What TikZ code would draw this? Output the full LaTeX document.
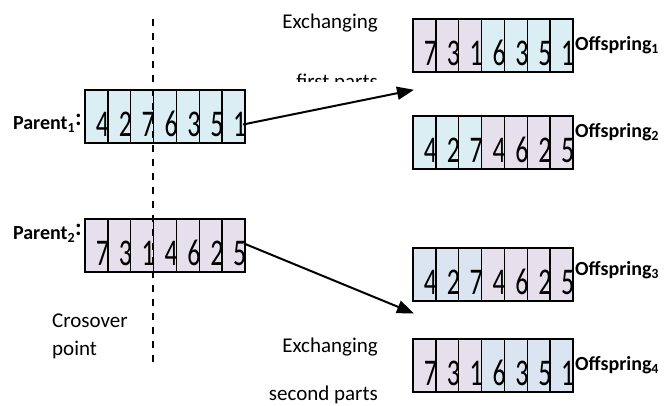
\documentclass[tikz,border=0pt]{standalone}
\usepackage{fontspec}
\usepackage{graphicx}
\setmainfont{Carlito}
\usetikzlibrary{arrows.meta}

\definecolor{geneCyan}{HTML}{DAEEF3}
\definecolor{geneLav}{HTML}{E5E0EC}
\definecolor{geneBlue}{HTML}{DBE5F1}

% one gene value, set large and slightly tall
\newcommand\genetext[1]{\fontsize{26}{26}\selectfont\scalebox{1}[1.45]{#1}}

\tikzset{
  cell/.style={draw, line width=1.4pt, minimum width=22.857pt, minimum height=53pt,
               inner sep=0pt, outer sep=0pt, anchor=north west},
  genedigit/.style={inner sep=0pt, anchor=base east},
  tag/.style={inner sep=0pt, font=\fontsize{20}{20}\selectfont\bfseries},
  caption/.style={inner sep=0pt, font=\fontsize{21}{21}\selectfont},
  cut/.style={line width=1.5pt, dash pattern=on 7pt off 7pt},
  move/.style={line width=2pt, -{Triangle[length=17pt,width=13pt]}, shorten >=-1pt}
}

% chromosome: name, left x, top y, list of colour/value
\newcommand\chromosome[4]{%
  \foreach \c/\d [count=\i] in {#4} {
    \node[cell, fill=\c] (#1-\i) at ({#2+(\i-1)*22.857}, #3) {};
    \node[genedigit] (#1-v\i) at ([xshift=1.5pt, yshift=7pt]#1-\i.south east) {\genetext{\d}};
  }}

\begin{document}
\begin{tikzpicture}[x=1pt, y=-1pt]
  \useasboundingbox (0,0) rectangle (664,405);

  % parents
  \chromosome{pa}{85}{90}{geneCyan/4,geneCyan/2,geneCyan/7,geneCyan/6,geneCyan/3,geneCyan/5,geneCyan/1}
  \chromosome{pb}{85}{219}{geneLav/7,geneLav/3,geneLav/1,geneLav/4,geneLav/6,geneLav/2,geneLav/5}

  % offspring
  \chromosome{oa}{413}{19}{geneLav/7,geneLav/3,geneLav/1,geneCyan/6,geneCyan/3,geneCyan/5,geneCyan/1}
  \chromosome{ob}{413}{116}{geneCyan/4,geneCyan/2,geneCyan/7,geneLav/4,geneLav/6,geneLav/2,geneLav/5}
  \chromosome{oc}{413}{248}{geneBlue/4,geneBlue/2,geneBlue/7,geneLav/4,geneLav/6,geneLav/2,geneLav/5}
  \chromosome{od}{413}{339}{geneLav/7,geneLav/3,geneLav/1,geneBlue/6,geneBlue/3,geneBlue/5,geneBlue/1}

  % labels
  \node[tag, anchor=base east] (la) at (82,129) {Parent\textsubscript{1}\raisebox{4pt}{\fontsize{24}{24}\selectfont:}};
  \node[tag, anchor=base east] (lb) at (82,239) {Parent\textsubscript{2}\raisebox{4pt}{\fontsize{24}{24}\selectfont:}};
  \node[tag, anchor=base west] (lc) at (575,50) {Offspring\textsubscript{1}};
  \node[tag, anchor=base west] (ld) at (575,137) {Offspring\textsubscript{2}};
  \node[tag, anchor=base west] (le) at (575,275) {Offspring\textsubscript{3}};
  \node[tag, anchor=base west] (lf) at (575,370) {Offspring\textsubscript{4}};

  % crossover point
  \coordinate (cuttop) at (153,19);
  \coordinate (cutbot) at (153,362);
  \draw[cut] (cuttop) -- (cutbot);
  \node[caption, anchor=base west] (cx1) at (52,327) {Crosover};
  \node[caption, anchor=base west] (cx2) at (52,355) {point};

  % exchange captions
  \node[caption, anchor=base east] (ex1) at (378,28) {Exchanging};
  \begin{scope}
    \clip (250,60) rectangle (400,81);
    \node[caption, anchor=base east] (ex2) at (378,88) {first parts};
  \end{scope}
  \node[caption, anchor=base east] (ex3) at (378,352) {Exchanging};
  \node[caption, anchor=base east] (ex4) at (378,400) {second parts};

  % exchange arrows
  \coordinate (tipa) at (413,90);
  \coordinate (tipb) at (413,313);
  \draw[move] ([xshift=-2pt, yshift=-8pt]pa-7.east) -- (tipa);
  \draw[move] ([xshift=-1pt, yshift=2pt]pb-7.east) -- (tipb);
\end{tikzpicture}
\end{document}
